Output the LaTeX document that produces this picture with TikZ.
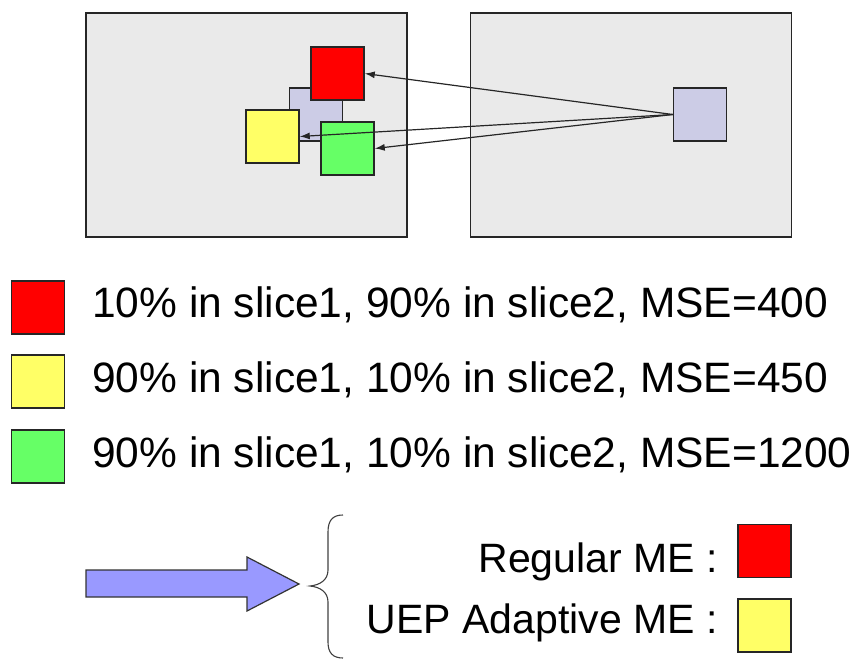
\documentclass[tikz,border=0pt]{standalone}
\usepackage{fontspec}
\setmainfont{Liberation Sans}
\usetikzlibrary{arrows.meta}
\definecolor{framegray}{HTML}{EAEAEA}
\definecolor{lav}{HTML}{CCCCE6}
\definecolor{myred}{HTML}{FF0000}
\definecolor{myyellow}{HTML}{FFFF66}
\definecolor{mygreen}{HTML}{66FF66}
\definecolor{myblue}{HTML}{9999FF}
\begin{document}
\begin{tikzpicture}[x=1pt,y=-1pt,
  frame/.style={draw=black!85, line width=1.4pt, fill=framegray, minimum width=321pt, minimum height=224pt, inner sep=0pt},
  sq/.style={draw=black!85, line width=1.5pt, minimum width=53pt, minimum height=53pt, inner sep=0pt},
  mv/.style={-{Latex[length=10pt,width=7pt]}, line width=1.2pt, black!85},
  lbl/.style={inner sep=0pt, font=\fontsize{42.5}{48}\selectfont},
  lbl2/.style={inner sep=0pt, font=\fontsize{41}{48}\selectfont}]
\useasboundingbox (0,0) rectangle (856,662);
% frames
\node[frame] (f1) at (246.5,125) {};
\node[frame] (f2) at (631,125) {};
% blocks in left frame
\node[sq, fill=lav] (lp) at (316,114.5) {};
\node[sq, fill=myred] (red) at (337.5,73.5) {};
\node[sq, fill=myyellow] (yel) at (272.5,136.5) {};
\node[sq, fill=mygreen] (grn) at (347.5,148.5) {};
% block in right frame
\node[sq, fill=lav] (rp) at (700,114.5) {};
% motion vectors
\draw[mv] (rp.west) -- (red.east);
\draw[mv] (rp.west) -- (yel.east);
\draw[mv] (rp.west) -- (grn.east);
% legend
\node[sq, fill=myred] (l1) at (38,307.5) {};
\node[sq, fill=myyellow] (l2) at (38,381.5) {};
\node[sq, fill=mygreen] (l3) at (38,456.5) {};
\node[lbl, anchor=base west] (t1) at (92,317) {10\% in slice1, 90\% in slice2, MSE=400};
\node[lbl, anchor=base west] (t2) at (92,392) {90\% in slice1, 10\% in slice2, MSE=450};
\node[lbl, anchor=base west] (t3) at (92,467) {90\% in slice1, 10\% in slice2, MSE=1200};
% big arrow
\draw[fill=myblue, draw=black!80, line width=1.2pt, line join=miter]
  (86,570) -- (247,570) -- (247,557) -- (299,584) -- (247,611) -- (247,597) -- (86,597) -- cycle;
% brace
\draw[black!75, line width=1.1pt]
  (343,515) .. controls (333,515) and (328,520) .. (328,532)
  -- (328,570) .. controls (328,580) and (320,585) .. (310,586)
  .. controls (320,587) and (328,592) .. (328,602)
  -- (328,642) .. controls (328,653) and (333,658) .. (343,658);
% result
\node[lbl2, anchor=base east] (r1) at (718,572) {Regular ME :};
\node[lbl2, anchor=base east] (r2) at (718,633) {UEP Adaptive ME :};
\node[sq, fill=myred] (rs1) at (764.5,551) {};
\node[sq, fill=myyellow] (rs2) at (764.5,625.5) {};
\end{tikzpicture}
\end{document}
